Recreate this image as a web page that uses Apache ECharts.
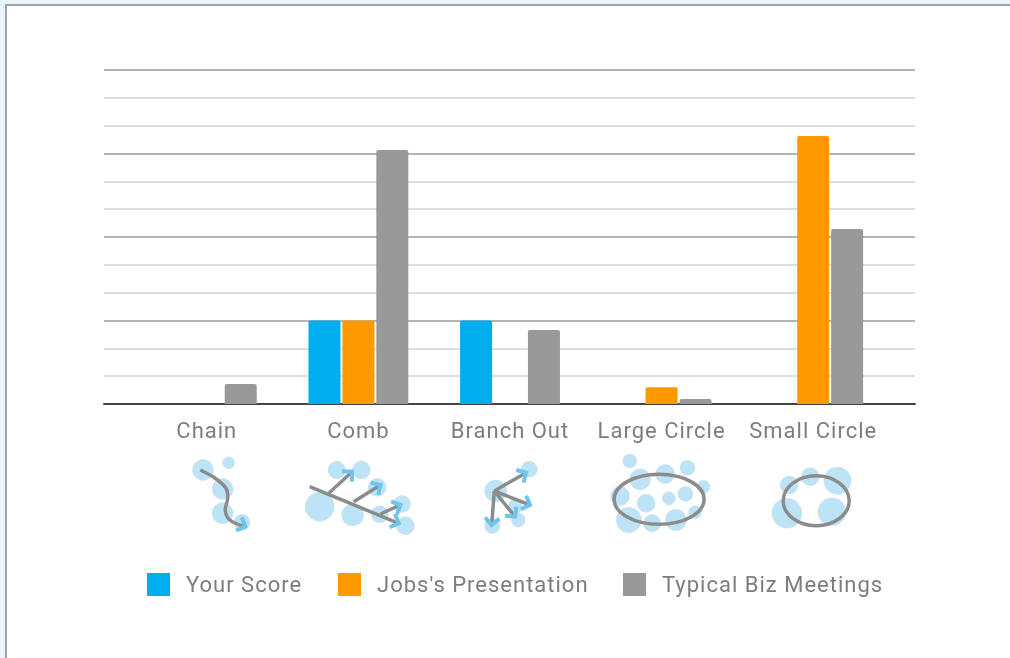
<!DOCTYPE html>
<html>
<head>
<meta charset="utf-8">
<script src="https://cdn.jsdelivr.net/npm/echarts@6/dist/echarts.min.js"></script>
<style>
    html, body { margin: 0; padding: 0; width: 1010px; height: 658px; overflow: hidden; background: #eaf4fb; }
    #frame { position: absolute; left: 5px; top: 4px; width: 1100px; height: 800px; background: #fff; border: 2px solid #9ea4ab; }
    #main { position: absolute; left: 0; top: 0; width: 1010px; height: 658px; letter-spacing: 1px; filter: blur(0.5px); }
</style>
</head>
<body>
<div id="frame"></div>
<div id="main"></div>
<script>
const categories = ['Chain', 'Comb', 'Branch Out', 'Large Circle', 'Small Circle'];
const seriesNames = ['Your Score', "Jobs's Presentation", 'Typical Biz Meetings'];
const yourScore = [0, 3, 3, 0, 0];
const jobsPresentation = [0, 3, 0, 0.6, 9.63];
const typicalBizMeetings = [0.72, 9.13, 2.66, 0.18, 6.29];

// 图标形状: 相对类别中心的局部坐标
const iconBubbles = [
    [[-3.8, 20, 10.5], [21.8, 12.7, 6], [15.8, 39, 10.5], [15.8, 63.3, 10.5], [35.2, 72.3, 8]],
    [[-21.7, 20, 8.7], [3, 20, 9], [18.7, 37.3, 9], [-38.7, 56.7, 14.5], [-5.7, 65, 11], [21.3, 64.3, 8.5], [43.7, 54, 8.5], [47, 75.7, 9]],
    [[-14.3, 41, 11], [19.3, 19.3, 8], [5, 56.7, 7], [8.3, 70, 7], [-17.7, 76, 7.5]],
    [[-31.8, 11, 7], [-21.5, 29.3, 10.5], [3.5, 24, 9.5], [25.8, 17.7, 7.5], [41.8, 36.7, 6.5], [-41.5, 46, 9.5], [-15.5, 53.3, 9], [7.2, 48.3, 6.5], [23.8, 44, 7.5], [33.5, 62.3, 6.5], [-32.8, 70, 12.7], [-9.5, 73.3, 8.7], [14.2, 70, 10.7]],
    [[-24, 35, 9], [-3, 26.7, 9], [24.3, 30.7, 13.7], [-26.3, 63.3, 15], [18.7, 61.7, 14]]
];
const iconArrows = [
    [[[-6.5, 20], [8, 28], [19, 38], [21, 48], [18.5, 60], [23, 70], [38.5, 76.7]]],
    [[[-48.7, 36.7], [40.3, 73.3]], [[-29.7, 43.3], [-6.3, 21.7]], [[-4.7, 51.7], [22, 35]], [[22, 64], [42, 55]]],
    [[[-15.7, 41], [16, 22.7]], [[-15.7, 41], [20, 55]], [[-15.7, 41], [5, 66.7]], [[-15.7, 41], [-18.3, 75]]],
    [],
    []
];
const iconRings = [null, null, null, [-2.5, 49.3, 45, 25], [3, 50.7, 33, 25]];

const legendLefts = [147, 338, 623];
const fontName = 'Roboto';
const textColor = '#7d7d7d';

document.addEventListener('DOMContentLoaded', function () {
    const chart = echarts.init(document.getElementById('main'), null, { renderer: 'svg' });
    chart.setOption(getChartOptions());
    chart.setOption({ graphic: buildIcons(chart) });
});

function getChartOptions() {
    const makeBar = (name, data, color) => ({
        name: name,
        type: 'bar',
        xAxisIndex: 1,
        yAxisIndex: 1,
        data: data,
        barWidth: 32,
        barGap: '6%',
        itemStyle: { color: color, borderRadius: [2, 2, 0, 0] }
    });
    return {
        animation: false,
        backgroundColor: 'transparent',
        textStyle: { fontFamily: fontName },
        // 每个图例单独定位
        legend: seriesNames.map((name, i) => ({
            data: [name],
            left: legendLefts[i],
            top: 573,
            icon: 'rect',
            itemWidth: 23,
            itemHeight: 23,
            padding: 0,
            textStyle: { fontFamily: fontName, fontSize: 22, color: textColor, padding: [3, 0, 0, 11] }
        })),
        // 两个网格: 网格线比柱子区域宽
        grid: [
            { left: 104, top: 70, width: 811, height: 334 },
            { left: 131, top: 70, width: 758, height: 334 }
        ],
        xAxis: [
            {
                type: 'category',
                gridIndex: 0,
                data: categories,
                axisLine: { lineStyle: { color: '#444', width: 2 } },
                axisTick: { show: false },
                axisLabel: { show: false }
            },
            {
                type: 'category',
                gridIndex: 1,
                data: categories,
                axisLine: { show: false },
                axisTick: { show: false },
                axisLabel: { fontFamily: fontName, fontSize: 22, color: textColor, margin: 15 }
            }
        ],
        yAxis: [
            {
                type: 'value',
                gridIndex: 0,
                min: 0,
                max: 12,
                interval: 3,
                axisLabel: { show: false },
                axisLine: { show: false },
                axisTick: { show: false },
                splitLine: { lineStyle: { color: '#b4b4b4', width: 2 } },
                minorTick: { show: false, splitNumber: 3 },
                minorSplitLine: { show: true, lineStyle: { color: '#dedede', width: 2 } }
            },
            { type: 'value', gridIndex: 1, min: 0, max: 12, interval: 3, show: false }
        ],
        series: [
            makeBar(seriesNames[0], yourScore, '#00aeef'),
            makeBar(seriesNames[1], jobsPresentation, '#ff9900'),
            makeBar(seriesNames[2], typicalBizMeetings, '#999999')
        ]
    };
}

// 类别下方的小图标
function buildIcons(chart) {
    return categories.map(function (name, i) {
        const children = [];
        iconBubbles[i].forEach(function (b) {
            children.push({
                type: 'circle',
                shape: { cx: b[0], cy: b[1], r: b[2] },
                style: { fill: '#bde3f6', stroke: '#d5dde2', lineWidth: 0.5 }
            });
        });
        iconArrows[i].forEach(function (pts) {
            children.push({
                type: 'polyline',
                shape: { points: pts, smooth: pts.length > 2 ? 0.3 : 0 },
                style: { fill: null, stroke: '#8c8c8c', lineWidth: 3.5 }
            });
            children.push(arrowHead(pts));
        });
        if (iconRings[i]) {
            const r = iconRings[i];
            children.push({
                type: 'ellipse',
                shape: { cx: r[0], cy: r[1], rx: r[2], ry: r[3] },
                style: { fill: null, stroke: '#8c8c8c', lineWidth: 3.5 }
            });
        }
        return {
            type: 'group',
            x: chart.convertToPixel({ xAxisIndex: 1 }, name),
            y: 450,
            z: 10,
            children: children
        };
    });
}

function arrowHead(pts) {
    const end = pts[pts.length - 1];
    const prev = pts[pts.length - 2];
    const a = Math.atan2(end[1] - prev[1], end[0] - prev[0]);
    const size = 10;
    const wing = function (d) {
        return [end[0] - size * Math.cos(a + d), end[1] - size * Math.sin(a + d)];
    };
    return {
        type: 'polyline',
        z: 2,
        shape: { points: [wing(0.8), end, wing(-0.8)] },
        style: { fill: null, stroke: '#6cc4ef', lineWidth: 4 }
    };
}
</script>
</body>
</html>
